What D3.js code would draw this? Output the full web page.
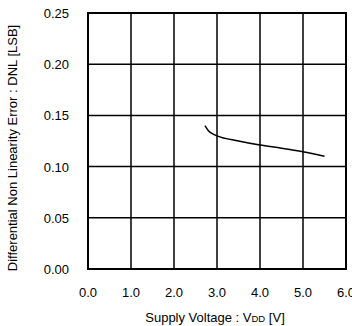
<!DOCTYPE html>
<html>
<head>
<meta charset="utf-8">
<script src="https://cdn.jsdelivr.net/npm/d3@7"></script>
<style>
  body { margin: 0; background: #fff; }
  text { font-family: "Liberation Sans", Arial, sans-serif; fill: #000; }
</style>
</head>
<body>
<svg id="chart" width="352" height="326"></svg>
<script>
// Data
const voltage = [2.72, 2.8, 2.9, 3.0, 3.5, 4.0, 4.5, 5.0, 5.5];
const dnl = [0.140, 0.135, 0.132, 0.130, 0.125, 0.121, 0.118, 0.1145, 0.110];
const xTicks = [0, 1, 2, 3, 4, 5, 6];
const yTicks = [0, 0.05, 0.10, 0.15, 0.20, 0.25];

const dims = { left: 88, right: 346, top: 13, bottom: 269 };

const svg = d3.select("#chart");

const xScale = d3.scaleLinear().domain([0, 6]).range([dims.left, dims.right]);
const yScale = d3.scaleLinear().domain([0, 0.25]).range([dims.bottom, dims.top]);

// Grid
const grid = svg.append("g").attr("stroke", "#000").attr("stroke-width", 1.5);
grid.selectAll(".vx").data(xTicks).enter().append("line")
  .attr("x1", d => xScale(d)).attr("x2", d => xScale(d))
  .attr("y1", dims.top).attr("y2", dims.bottom);
grid.selectAll(".hy").data(yTicks).enter().append("line")
  .attr("x1", dims.left).attr("x2", dims.right)
  .attr("y1", d => yScale(d)).attr("y2", d => yScale(d));

// Frame
svg.append("rect")
  .attr("x", dims.left).attr("y", dims.top)
  .attr("width", dims.right - dims.left).attr("height", dims.bottom - dims.top)
  .attr("fill", "none").attr("stroke", "#000").attr("stroke-width", 2);

// Tick labels
svg.selectAll(".xl").data(xTicks).enter().append("text")
  .attr("x", d => xScale(d)).attr("y", 297)
  .attr("text-anchor", "middle").style("font-size", "13px")
  .text(d => d3.format(".1f")(d));
svg.selectAll(".yl").data(yTicks).enter().append("text")
  .attr("x", 69).attr("y", d => yScale(d) + 5)
  .attr("text-anchor", "end").style("font-size", "13px")
  .text(d => d3.format(".2f")(d));

// Axis titles
const xt = svg.append("text")
  .attr("x", 215).attr("y", 322)
  .attr("text-anchor", "middle").style("font-size", "13px");
xt.append("tspan").text("Supply Voltage : V");
xt.append("tspan").style("font-size", "9.5px").text("DD");
xt.append("tspan").text(" [V]");

svg.append("text")
  .attr("transform", `translate(17,148) rotate(-90)`)
  .attr("text-anchor", "middle").style("font-size", "13px")
  .text("Differential Non Linearity Error : DNL [LSB]");

// Curve
const line = d3.line()
  .x((d, i) => xScale(voltage[i]))
  .y(d => yScale(d))
  .curve(d3.curveMonotoneX);
svg.append("path")
  .datum(dnl)
  .attr("d", line)
  .attr("fill", "none").attr("stroke", "#000").attr("stroke-width", 1.5);
</script>
</body>
</html>
